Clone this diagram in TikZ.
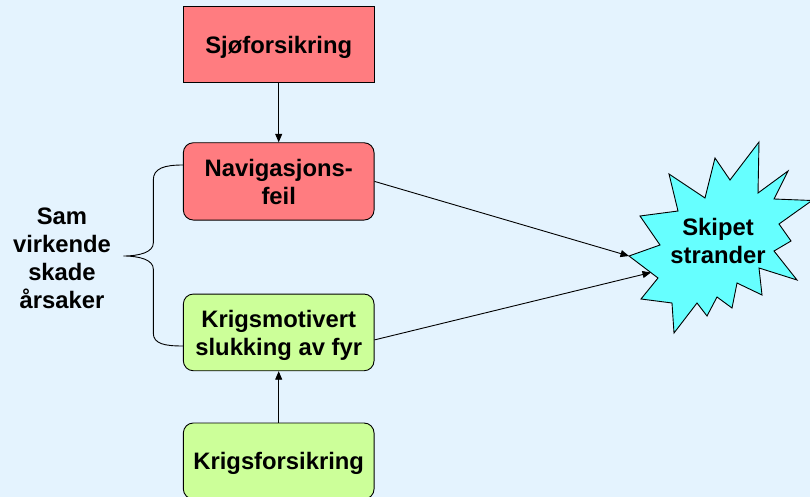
\documentclass[tikz,border=0pt]{standalone}
\usepackage{fontspec}
\setmainfont{Liberation Sans}
\usetikzlibrary{arrows.meta,calc}
\definecolor{bgblue}{RGB}{228,243,254}
\definecolor{salmon}{RGB}{255,124,128}
\definecolor{lightgreen}{RGB}{204,255,153}
\definecolor{aqua}{RGB}{102,255,255}
\tikzset{
  label text/.style={font=\bfseries\fontsize{23.8}{28}\selectfont, align=center, text depth=0pt},
  sqbox/.style={label text, draw=black, line width=0.9pt, minimum width=190.7pt, minimum height=76.7pt, inner sep=0pt},
  rndbox/.style={sqbox, rounded corners=10pt},
  link/.style={draw=black, line width=0.9pt, -{Triangle[length=8.5pt,width=7pt]}},
  bracepath/.style={draw=black, line width=0.9pt},
  burst/.style={draw=black, line width=0.9pt, fill=aqua, line join=miter}
}
\begin{document}
\begin{tikzpicture}[x=1pt,y=-1pt]
  % page and background
  \useasboundingbox (0,0) rectangle (810,497);
  \fill[bgblue] (0,0) rectangle (810,497);

  % explosion outline
  \draw[burst] (629,256) -- (660,245) -- (640,216) -- (678,211) -- (669,174)
    -- (705,198) -- (715,158) -- (730,180) -- (759,142) -- (758,193)
    -- (788,171) -- (774,199) -- (812,200.5) -- (779,224) -- (791,241)
    -- (774,251) -- (797,280) -- (759,268) -- (762,295) -- (737,283)
    -- (732,308) -- (717,297) -- (707,316) -- (697,303) -- (674,333)
    -- (672,303) -- (641,299) -- (658,278) -- cycle;
  \node[label text] (skipet) at (718,241) {Skipet\\strander};
  \coordinate (hitA) at (629,256);
  \coordinate (hitB) at (651,272.5);

  % cause boxes
  \node[sqbox, fill=salmon] (sjo) at (278.7,44.4) {Sjøforsikring};
  \node[rndbox, fill=salmon, minimum height=77.3pt] (nav) at (278.7,181.4) {Navigasjons-\\feil};
  \node[rndbox, fill=lightgreen] (krm) at (278.7,332.4) {Krigsmotivert\\slukking av fyr};
  \node[rndbox, fill=lightgreen, minimum height=76pt] (krf) at (278.7,461) {Krigsforsikring};

  % connectors
  \draw[link] (sjo) -- (nav);
  \draw[link] (krf) -- (krm);
  \draw[link] (nav.east) -- (hitA);
  \draw[link] ([yshift=-7.5pt]krm.east) -- (hitB);

  % curly brace joining the two combined causes
  \draw[bracepath] ([yshift=16.4pt]nav.west)
    .. controls (165,165) and (153.3,168) .. (153.3,180)
    -- (153.3,243)
    .. controls (153.3,252) and (140,256) .. (123.3,256)
    .. controls (140,256) and (153.3,260) .. (153.3,269)
    -- (153.3,333)
    .. controls (153.3,344) and (165,346) .. ([yshift=-13.6pt]krm.west);

  \node[label text] (sam) at (62,258.5) {Sam\\virkende\\skade\\årsaker};
\end{tikzpicture}
\end{document}
